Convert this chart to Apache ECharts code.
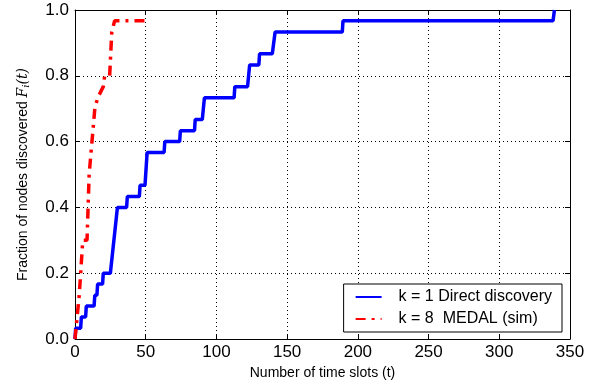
<!DOCTYPE html>
<html>
<head>
<meta charset="utf-8">
<script src="https://cdn.jsdelivr.net/npm/echarts@6/dist/echarts.min.js"></script>
<style>
  html, body { margin: 0; padding: 0; background: #fff; }
  #main { width: 594px; height: 385px; }
</style>
</head>
<body>
<div id="main"></div>
<script>
// time slot, fraction discovered
const directSteps = [
  [0, 0.0], [0.5, 0.033], [4, 0.033], [4.5, 0.067], [7.5, 0.067], [8, 0.1],
  [13.5, 0.1], [14, 0.133], [15.5, 0.133], [16, 0.167], [19.5, 0.167], [20, 0.2],
  [25, 0.2], [30, 0.4], [36.5, 0.4], [37, 0.433], [45.5, 0.433], [46, 0.467],
  [49.5, 0.467], [51, 0.567], [63, 0.567], [63.5, 0.6], [74, 0.6], [74.5, 0.633],
  [84.5, 0.633], [85, 0.667], [90, 0.667], [91.5, 0.733], [112.5, 0.733], [113, 0.767],
  [122, 0.767], [123.5, 0.833], [130, 0.833], [130.5, 0.867], [139.5, 0.867], [141.5, 0.933],
  [189, 0.933], [189.5, 0.967], [338, 0.967], [339, 1.0]
];
const medalSteps = [
  [0, 0.0], [1.5, 0.067], [3, 0.133], [4, 0.2], [5.5, 0.3], [8.5, 0.3],
  [10, 0.5], [14, 0.7], [16, 0.733], [20, 0.767], [21, 0.8], [24.5, 0.8],
  [26, 0.933], [28, 0.967], [50, 0.967]
];
const seriesNames = ['k = 1 Direct discovery', 'k = 8  MEDAL (sim)'];
const xTicks = { min: 0, max: 350, interval: 50 };
const yTicks = { min: 0, max: 1, interval: 0.2 };

const font = 'Liberation Sans, Arial, Helvetica, sans-serif';
const chart = echarts.init(document.getElementById('main'), null, { renderer: 'canvas' });

const gridLine = { show: true, lineStyle: { color: '#000', type: [1, 3], width: 1 } };
const boxLine = { show: true, onZero: false, lineStyle: { color: '#000', width: 1 } };
const tick = { show: true, inside: true, length: 5, lineStyle: { color: '#000' } };

const option = {
  animation: false,
  backgroundColor: '#fff',
  grid: { left: 75, right: 24, top: 10, bottom: 45 },
  legend: {
    data: seriesNames,
    orient: 'vertical',
    right: 32,
    bottom: 53,
    backgroundColor: '#fff',
    borderColor: '#000',
    borderWidth: 1,
    borderRadius: 0,
    padding: [5, 10, 5, 11],
    itemGap: 6,
    itemWidth: 26,
    itemHeight: 18,
    itemStyle: { opacity: 0 },
    textStyle: { fontFamily: font, fontSize: 16, color: '#000', padding: [0, 0, 0, 12] }
  },
  xAxis: [{
    type: 'value',
    min: xTicks.min, max: xTicks.max, interval: xTicks.interval,
    name: 'Number of time slots (t)',
    nameLocation: 'middle',
    nameGap: 27,
    nameTextStyle: { fontFamily: font, fontSize: 14, color: '#000' },
    axisLine: boxLine,
    axisTick: tick,
    axisLabel: { fontFamily: font, fontSize: 17, color: '#000', margin: 5 },
    splitLine: gridLine
  }, {
    type: 'value', position: 'top',
    min: xTicks.min, max: xTicks.max, interval: xTicks.interval,
    axisLine: boxLine, axisTick: tick, axisLabel: { show: false }, splitLine: { show: false }
  }],
  yAxis: [{
    type: 'value',
    min: yTicks.min, max: yTicks.max, interval: yTicks.interval,
    name: '{n|Fraction of nodes discovered }{i|F}{s|i}{i|(t)}',
    nameLocation: 'middle',
    nameGap: 44,
    nameTextStyle: {
      fontFamily: font, fontSize: 14, color: '#000',
      rich: {
        n: { fontFamily: font, fontSize: 14, color: '#000' },
        i: { fontFamily: 'DejaVu Serif, serif', fontStyle: 'italic', fontSize: 14, color: '#000' },
        s: { fontFamily: 'DejaVu Serif, serif', fontStyle: 'italic', fontSize: 10, color: '#000', verticalAlign: 'bottom', padding: [6, 0, 0, 0] }
      }
    },
    axisLine: boxLine,
    axisTick: tick,
    axisLabel: { fontFamily: font, fontSize: 17, color: '#000', margin: 6, formatter: v => v.toFixed(1) },
    splitLine: gridLine
  }, {
    type: 'value', position: 'right',
    min: yTicks.min, max: yTicks.max, interval: yTicks.interval,
    axisLine: boxLine, axisTick: tick, axisLabel: { show: false }, splitLine: { show: false }
  }],
  series: [{
    name: seriesNames[0],
    type: 'line',
    data: directSteps,
    symbol: 'none',
    color: '#0000ff',
    lineStyle: { color: '#0000ff', width: 3.5 },
    z: 3
  }, {
    name: seriesNames[1],
    type: 'line',
    data: medalSteps,
    symbol: 'none',
    color: '#ff0000',
    lineStyle: { color: '#ff0000', width: 3.5, type: [10, 6, 3, 6] },
    z: 4
  }]
};

chart.setOption(option);
</script>
</body>
</html>
